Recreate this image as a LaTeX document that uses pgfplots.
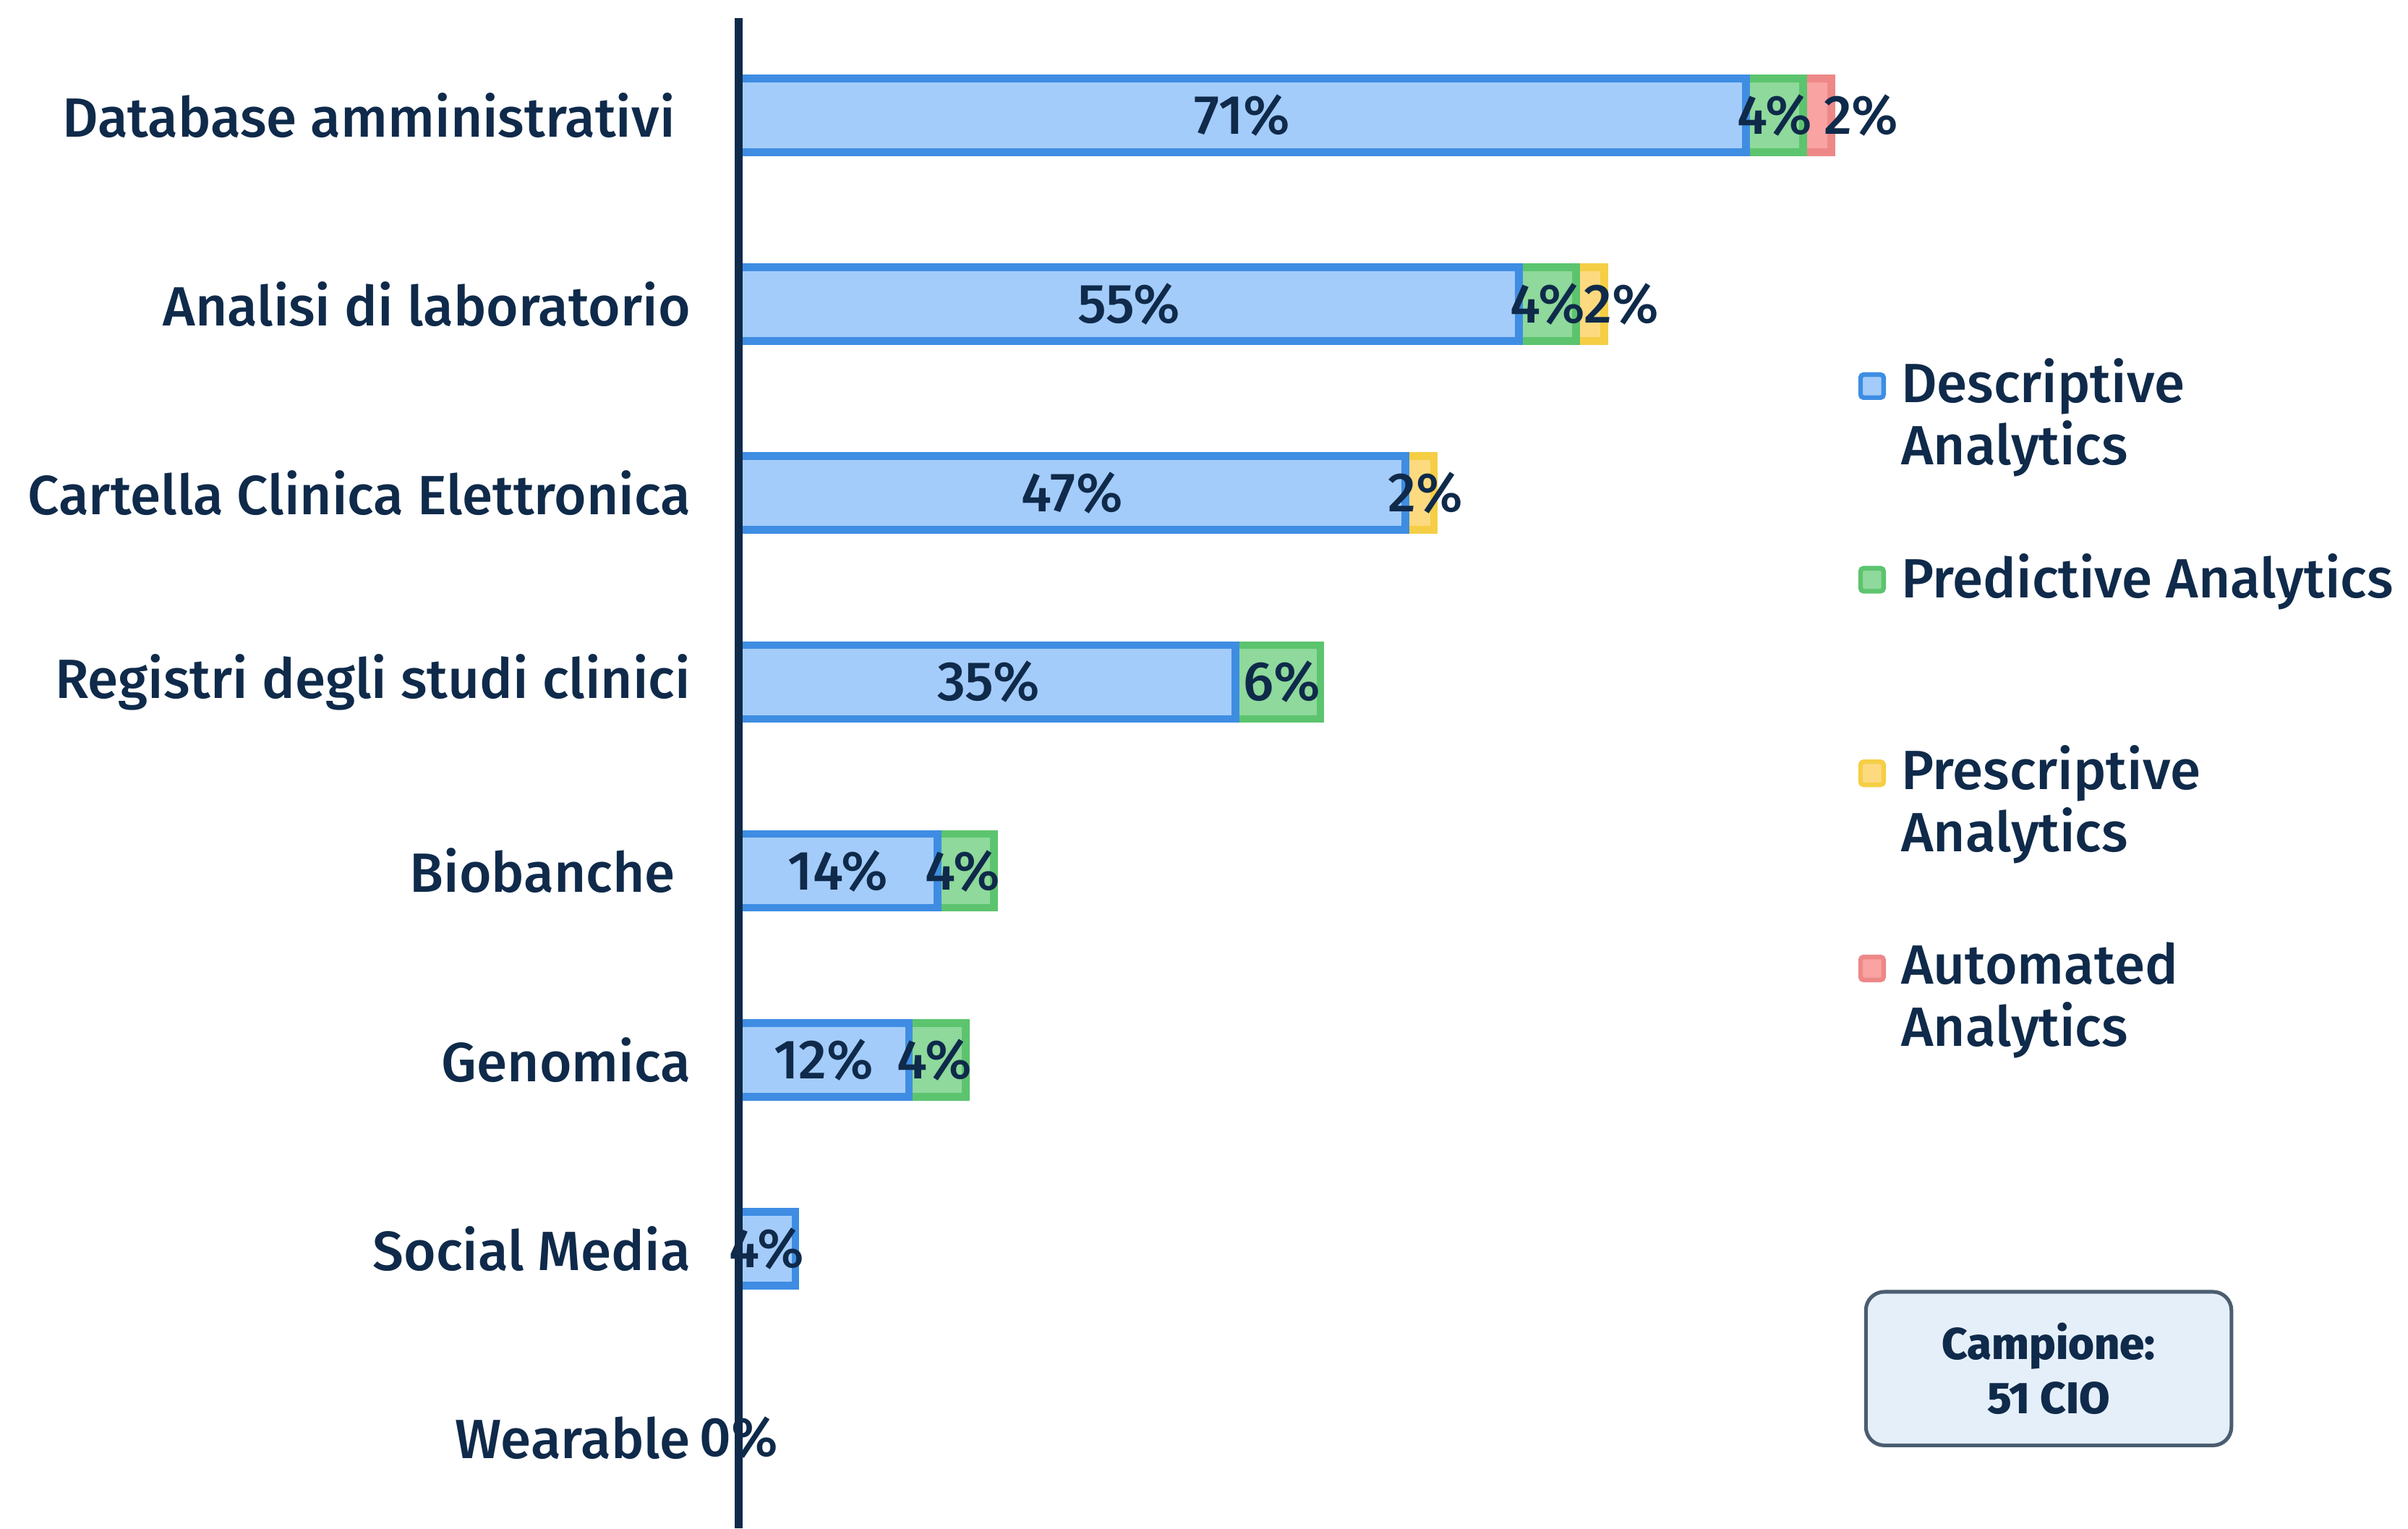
\documentclass[border=0pt]{standalone}
\usepackage{fontspec}
\setmainfont{Fira Sans Medium}
\usepackage{pgfplots}
\usepackage{pgfplotstable}
\pgfplotsset{compat=1.18}
\definecolor{navy}{HTML}{0F2A4A}
\definecolor{descF}{HTML}{A4CCFA}
\definecolor{descL}{HTML}{3E8DE3}
\definecolor{predF}{HTML}{8ED99B}
\definecolor{predL}{HTML}{5CC46E}
\definecolor{presF}{HTML}{FDDA80}
\definecolor{presL}{HTML}{F5CE45}
\definecolor{autoF}{HTML}{F9A3A3}
\definecolor{autoL}{HTML}{EE8888}
\definecolor{boxF}{HTML}{E5EFFA}
\definecolor{boxL}{HTML}{4B5D70}

\pgfplotstableread{
y desc pred pres auto
0 71 4 0 2
1 55 4 2 0
2 47 0 2 0
3 35 6 0 0
4 14 4 0 0
5 12 4 0 0
6 4 0 0 0
7 0 0 0 0
}\datatable

\pgfplotstableread{
x y lab
35.5 0 71
73 0 4
79.1 0 2
27.5 1 55
57 1 4
62.2 1 2
23.5 2 47
48.4 2 2
17.6 3 35
38.3 3 6
7 4 14
15.8 4 4
6 5 12
13.8 5 4
2 6 4
0 7 0
}\labtable

\begin{document}
\begin{tikzpicture}
\path[use as bounding box] (-240.5pt,0pt) rectangle (543.5pt,497.5pt);
\begin{axis}[
  at={(0pt,0pt)}, anchor=south west,
  scale only axis, width=462pt, height=491.5pt,
  xbar, stack plots=x, bar shift=0pt, bar width=24pt,
  reverse stacked plots=true,
  xmin=0, xmax=100, ymin=-0.512, ymax=7.48, y dir=reverse,
  hide x axis,
  axis y line*=left,
  y axis line style={line width=2.5pt, draw=navy},
  ytick={0,...,7},
  yticklabels={Database amministrativi\kern5pt, Analisi di laboratorio, Cartella Clinica Elettronica, Registri degli studi clinici, Biobanche\kern5pt, Genomica, Social Media, Wearable},
  ytick style={draw=none},
  major tick length=0pt,
  yticklabel style={font=\fontsize{18}{20}\selectfont, text=navy, inner sep=0pt, xshift=-15.5pt},
  axis on top,
  clip=false,
  legend cell align=left,
  legend style={
    at={(axis description cs:0.789,0.775)}, anchor=north west,
    draw=none, fill=none, inner sep=0pt, outer sep=0pt,
    font=\fontsize{18}{20}\selectfont, text=navy,
    row sep=27.5pt, column sep=5pt,
    nodes={inner sep=0pt, align=left, text=navy},
  },
  legend image code/.code={\draw[line width=1.5pt, rounded corners=1pt] (0.75pt,5.25pt) rectangle (8.25pt,12.75pt);},
]
\addplot[fill=descF, draw=descL, line width=2.5pt] table[x=desc,y=y]{\datatable};
\addlegendentry{\strut Descriptive\\[-1pt]\strut Analytics}
\addplot[fill=predF, draw=predL, line width=2.5pt] table[x=pred,y=y]{\datatable};
\addlegendentry{\strut Predictive Analytics\\[-1pt]\strut}
\addplot[fill=presF, draw=presL, line width=2.5pt] table[x=pres,y=y]{\datatable};
\addlegendentry{\strut Prescriptive\\[-1pt]\strut Analytics}
\addplot[fill=autoF, draw=autoL, line width=2.5pt] table[x=auto,y=y]{\datatable};
\addlegendentry{\strut Automated\\[-1pt]\strut Analytics}

\addplot[forget plot, stack plots=false, sharp plot, draw=none, mark=none,
  point meta=explicit symbolic,
  nodes near coords={\pgfplotspointmeta\%},
  every node near coord/.append style={anchor=center, inner sep=0pt, text=navy, font=\fontsize{18}{20}\selectfont}]
  table[x=x, y=y, meta=lab]{\labtable};
\end{axis}
\node[draw=boxL, fill=boxF, line width=1.2pt, rounded corners=6pt, minimum width=119pt, minimum height=50pt, align=center, text=navy, font=\bfseries\fontsize{14.5}{17.5}\selectfont, inner sep=0pt] at (426.5pt,52pt) {Campione:\\51 CIO};
\end{tikzpicture}
\end{document}
